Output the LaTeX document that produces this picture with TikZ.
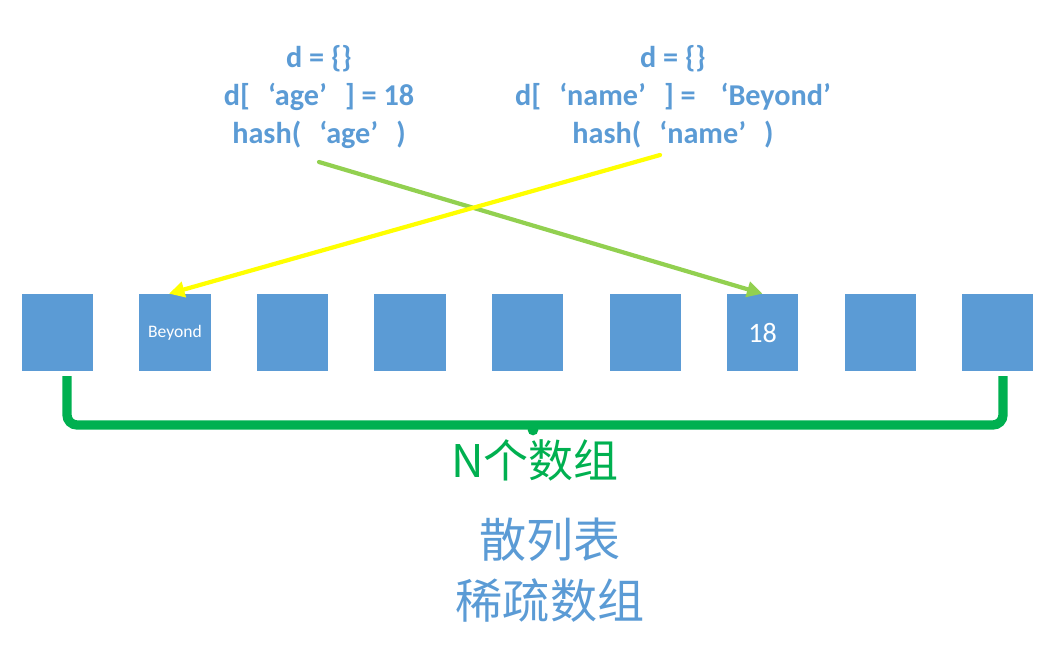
\documentclass[tikz,border=0pt]{standalone}
\usepackage{fontspec}
\setmainfont{Carlito}
\newfontfamily\cjk{Noto Sans CJK SC}
\usepackage{tikz}
\usetikzlibrary{arrows.meta,positioning}

\definecolor{boxblue}{HTML}{5B9BD5}
\definecolor{bracegreen}{HTML}{00B050}
\definecolor{arrowgreen}{HTML}{92D050}
\definecolor{arrowyellow}{HTML}{FFFF00}

\newcommand{\oq}{\hspace{0.6em}‘}
\newcommand{\cq}{’\hspace{0.6em}}

\tikzset{
    slot/.style = {rectangle, fill = boxblue, inner sep = 0pt,
        minimum width = 1.775cm, minimum height = 1.925cm,
        text = white},
    codetext/.style = {text = boxblue, align = center,
        font = \fontsize{21.5pt}{27pt}\selectfont\bfseries},
    hasharrow/.style = {line width = 3pt, line cap = round,
        -{Triangle[length=11pt,width=11pt]}},
    brace/.style = {line width = 6.6pt, draw = bracegreen,
        rounded corners = 0.25cm}
}

\begin{document}
\begin{tikzpicture}[x=0.025cm, y=-0.025cm]
\useasboundingbox (0,0) rectangle (1063,646);

\node[codetext] (qa) at (319,97) {d = \{\}\\ d[\oq age\cq] = 18\\ hash(\oq age\cq)};
\node[codetext] (qn) at (673,97) {d = \{\}\\ d[\oq name\cq] = \oq Beyond’\\ hash(\oq name\cq)};

\node[slot] (b1) at (57.5,332.5) {};
\node[slot, font = \fontsize{12.5pt}{14pt}\selectfont] (b2) at (175,332.5) {Beyond};
\node[slot] (b3) at (292.5,332.5) {};
\node[slot] (b4) at (410,332.5) {};
\node[slot] (b5) at (527.5,332.5) {};
\node[slot] (b6) at (645.5,332.5) {};
\node[slot, font = \fontsize{20pt}{24pt}\selectfont] (b7) at (762.5,332.5) {18};
\node[slot] (b8) at (880.5,332.5) {};
\node[slot] (b9) at (997.5,332.5) {};

\coordinate (ageout) at (319,162);
\coordinate (nameout) at (660,155);
\draw[hasharrow, draw = arrowgreen, fill = arrowgreen] (ageout) -- (b7.north);
\draw[hasharrow, draw = arrowyellow, fill = arrowyellow] (nameout) -- ([xshift=-0.15cm]b2.north);

\draw[brace] (67,376) -- (67,425) -- (1003,425) -- (1003,376);
\fill[bracegreen] (533,430) circle (3.8pt);

\node[text = bracegreen, font = \cjk\fontsize{32pt}{36pt}\selectfont] (n) at (535,460) {N个数组};
\node[text = boxblue, align = center, font = \cjk\fontsize{33.5pt}{43pt}\selectfont] (names) at (550,570) {散列表\\ 稀疏数组};

\end{tikzpicture}
\end{document}
